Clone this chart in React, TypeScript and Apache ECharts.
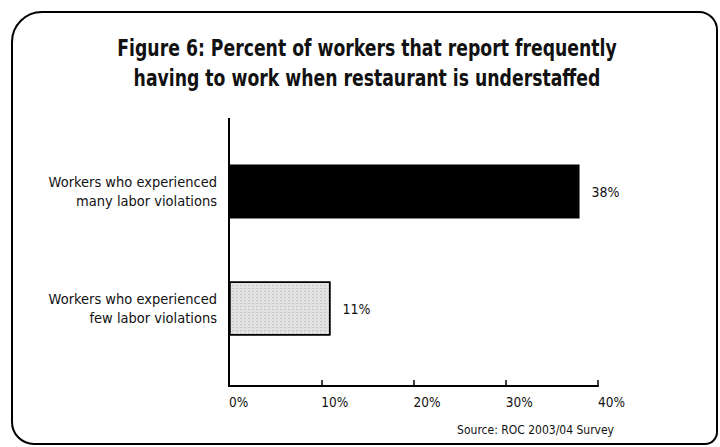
import React, { useEffect, useRef } from "react";
import * as echarts from "echarts";

const titleLines = [
  "Figure 6: Percent of workers that report frequently",
  "having to work when restaurant is understaffed",
];
const categories = [
  "Workers who experienced\nfew labor violations",
  "Workers who experienced\nmany labor violations",
];
const values = [11, 38];
const barColors = ["#e2e2e2", "#000000"];
const sourceText = "Source: ROC 2003/04 Survey";

const FONT = '"Liberation Sans Narrow", "DejaVu Sans Condensed", "Arial Narrow", sans-serif';

export default function App() {
  const ref = useRef<HTMLDivElement>(null);
  useEffect(() => {
    document.body.style.margin = "0";
    const chart = echarts.init(ref.current!, null, { renderer: "svg" });
    chart.setOption({
      animation: false,
      backgroundColor: "#ffffff",
      grid: { left: 229, right: 122, top: 133, bottom: 80 },
      xAxis: {
        type: "value",
        min: 0,
        max: 40,
        interval: 10,
        offset: 19,
        axisLine: { show: true, lineStyle: { color: "#000", width: 2 } },
        axisTick: { show: true, inside: true, length: 6, lineStyle: { color: "#000", width: 1.5 } },
        splitLine: { show: false },
        axisLabel: {
          formatter: "{value}%",
          color: "#111",
          fontFamily: FONT,
          fontSize: 13.5,
          margin: 9,
          align: "left",
        },
      },
      yAxis: {
        type: "category",
        data: categories,
        axisLine: { show: false },
        axisTick: { show: false },
        axisLabel: {
          color: "#111",
          fontFamily: FONT,
          fontSize: 14.5,
          lineHeight: 19,
          margin: 12,
          align: "right",
        },
      },
      series: [
        {
          type: "bar",
          barWidth: 54,
          data: values.map((v, i) => ({
            value: v,
            itemStyle:
              i === 0
                ? {
                    color: barColors[i],
                    borderColor: "#000",
                    borderWidth: 1.5,
                    decal: {
                      symbol: "rect",
                      symbolSize: 0.6,
                      color: "rgba(60,60,60,0.55)",
                      dashArrayX: [2, 2],
                      dashArrayY: [1, 2],
                    },
                  }
                : { color: barColors[i] },
          })),
          label: {
            show: true,
            position: "right",
            distance: 12,
            formatter: "{c}%",
            color: "#111",
            fontFamily: FONT,
            fontSize: 14,
          },
        },
      ],
      graphic: [
        {
          type: "rect",
          shape: { x: 12, y: 12, width: 705, height: 432, r: [30, 18, 12, 22] },
          style: { fill: "none", stroke: "#000", lineWidth: 2 },
          silent: true,
        },
        {
          type: "line",
          shape: { x1: 229, y1: 118, x2: 229, y2: 387 },
          style: { stroke: "#000", lineWidth: 2 },
          silent: true,
        },
        {
          type: "text",
          x: 367,
          y: 63,
          scaleY: 1.2,
          style: {
            text: titleLines.join("\n"),
            textAlign: "center",
            textVerticalAlign: "middle",
            fontFamily: FONT,
            fontWeight: "bold",
            fontSize: 19.2,
            lineHeight: 25,
            fill: "#111",
          },
        },
        {
          type: "text",
          x: 614,
          y: 430,
          style: {
            text: sourceText,
            textAlign: "right",
            textVerticalAlign: "middle",
            fontFamily: FONT,
            fontSize: 12,
            fill: "#111",
          },
        },
      ],
    });
    return () => chart.dispose();
  }, []);
  return <div ref={ref} style={{ width: 720, height: 447 }} />;
}
